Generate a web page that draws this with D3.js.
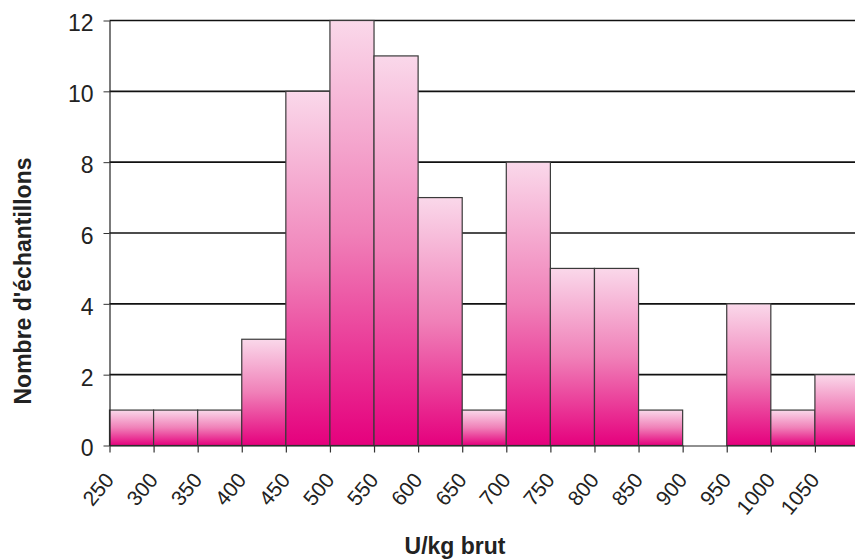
<!DOCTYPE html>
<meta charset="utf-8">
<script src="https://d3js.org/d3.v7.min.js"></script>
<style>
  body { margin: 0; background: #fff; }
  text { font-family: "Liberation Sans", Arial, sans-serif; }
</style>
<body>
<div id="chart"></div>
<script>
// bins (lower edge, U/kg brut) and counts
var binStarts = [250, 300, 350, 400, 450, 500, 550, 600, 650, 700, 750, 800, 850, 900, 950, 1000, 1050];
var counts    = [1, 1, 1, 3, 10, 12, 11, 7, 1, 8, 5, 5, 1, 0, 4, 1, 2];
var xTicks    = [250, 300, 350, 400, 450, 500, 550, 600, 650, 700, 750, 800, 850, 900, 950, 1000, 1050];
var yTicks    = [0, 2, 4, 6, 8, 10, 12];
var binWidth  = 50;

var width = 855, height = 560;

var svg = d3.select("#chart").append("svg")
  .attr("width", width)
  .attr("height", height);

var x = d3.scaleLinear().domain([250, 1100]).range([109.5, 859]);
var y = d3.scaleLinear().domain([0, 12]).range([445.5, 20.5]);

// gradient for the bars: light pink on top, magenta at the bottom
var defs = svg.append("defs");
var grad = defs.append("linearGradient")
  .attr("id", "barGrad")
  .attr("x1", 0).attr("y1", 0).attr("x2", 0).attr("y2", 1);
grad.append("stop").attr("offset", "0%").attr("stop-color", "#fad8ea");
grad.append("stop").attr("offset", "50%").attr("stop-color", "#f080b8");
grad.append("stop").attr("offset", "100%").attr("stop-color", "#e5007d");

// horizontal grid lines
svg.append("g")
  .selectAll("line")
  .data(yTicks.filter(function(d) { return d > 0; }))
  .enter().append("line")
    .attr("x1", x(250)).attr("x2", width)
    .attr("y1", function(d) { return y(d); })
    .attr("y2", function(d) { return y(d); })
    .attr("stroke", "#111")
    .attr("stroke-width", 1.6);

// bars
var data = binStarts.map(function(b, i) { return {start: b, count: counts[i]}; });
svg.append("g")
  .selectAll("rect")
  .data(data.filter(function(d) { return d.count > 0; }))
  .enter().append("rect")
    .attr("x", function(d) { return x(d.start); })
    .attr("width", function(d) { return x(d.start + binWidth) - x(d.start); })
    .attr("y", function(d) { return y(d.count); })
    .attr("height", function(d) { return y(0) - y(d.count); })
    .attr("fill", "url(#barGrad)")
    .attr("stroke", "#3a3a3a")
    .attr("stroke-width", 1.2);

// x axis
var xAxis = svg.append("g")
  .attr("transform", "translate(0," + y(0) + ")")
  .call(d3.axisBottom(x).tickValues(xTicks).tickSize(7).tickSizeOuter(0).tickFormat(d3.format("d")));
xAxis.select(".domain").attr("stroke", "#222").attr("stroke-width", 1.2);
xAxis.selectAll(".tick line").attr("stroke", "#333").attr("stroke-width", 1.2);
xAxis.selectAll(".tick text")
  .style("font-size", "21px")
  .attr("fill", "#222")
  .attr("text-anchor", "end")
  .attr("x", 0).attr("y", 0)
  .attr("dy", null)
  .attr("transform", "translate(5,35) rotate(-50)");

// y axis
var yAxis = svg.append("g")
  .attr("transform", "translate(" + x(250) + ",0)")
  .call(d3.axisLeft(y).tickValues(yTicks).tickSize(6).tickSizeOuter(0));
yAxis.select(".domain").attr("stroke", "#222").attr("stroke-width", 1.2);
yAxis.selectAll(".tick line").attr("stroke", "#333");
yAxis.selectAll(".tick text")
  .style("font-size", "23px")
  .attr("fill", "#222")
  .attr("x", -16)
  .attr("y", 3);

// axis titles
svg.append("text")
  .attr("x", 455).attr("y", 554)
  .attr("text-anchor", "middle")
  .style("font-size", "23px")
  .attr("font-weight", "bold")
  .attr("fill", "#222")
  .text("U/kg brut");

svg.append("text")
  .attr("transform", "translate(31,281) rotate(-90)")
  .attr("text-anchor", "middle")
  .style("font-size", "23px")
  .attr("font-weight", "bold")
  .attr("fill", "#222")
  .text("Nombre d'échantillons");
</script>
</body>
